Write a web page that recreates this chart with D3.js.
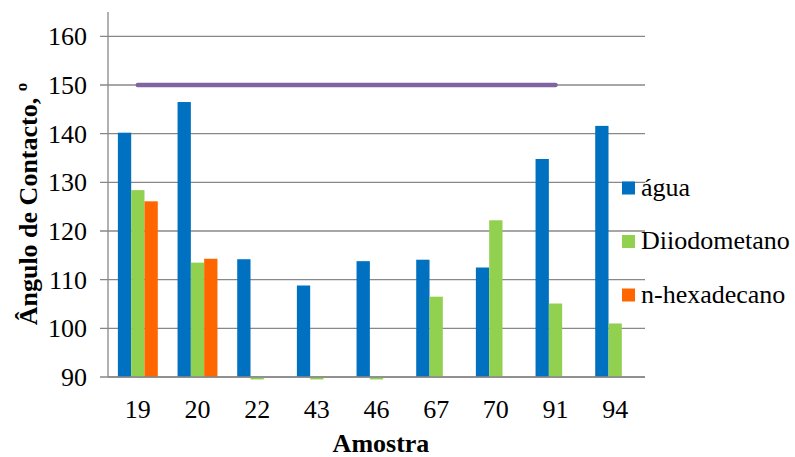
<!DOCTYPE html>
<html><head><meta charset="utf-8">
<script src="https://cdn.jsdelivr.net/npm/d3@7"></script>
<style>body{margin:0;background:#fff}svg{display:block}</style>
</head><body>
<svg id="c" width="795" height="457"></svg>
<script>
const categories = ["19","20","22","43","46","67","70","91","94"];
const agua = [140.2,146.5,114.2,108.8,113.8,114.1,112.5,134.8,141.6];
const diiodometano = [128.4,113.5,89.5,89.5,89.5,106.5,122.2,105.1,101.0];
const hexadecano = [126.1,114.3,null,null,null,null,null,null,null];
const referencia = [150,150,150,150,150,150,150,150,null];
const yTicks = [90,100,110,120,130,140,150,160];
const seriesNames = ["água","Diiodometano","n-hexadecano"];
const colors = ["#0070C0","#92D050","#FF6600"];
const lineColor = "#8064A2";
const FF = "'Liberation Serif', 'Times New Roman', serif";

const svg = d3.select("#c");
const L=108, R=645, T=12, B=377;
const x = d3.scaleBand().domain(categories).range([L,R]).paddingInner(0).paddingOuter(0);
const y = d3.scaleLinear().domain([90,165]).range([B,T]);
const series = [agua, diiodometano, hexadecano];
const bw = 13.3;
const groupW = bw*3;

// gridlines
svg.append("g").selectAll("line").data(yTicks).join("line")
  .attr("x1",L-8).attr("x2",R).attr("y1",d=>y(d)).attr("y2",d=>y(d))
  .attr("stroke","#888").attr("stroke-width",1.3);

// bars
series.forEach((s,si)=>{
  svg.append("g").selectAll("rect").data(s.map((v,i)=>({v,c:categories[i]})).filter(d=>d.v!=null))
    .join("rect")
    .attr("x",d=>x(d.c)+x.bandwidth()/2-groupW/2+si*bw)
    .attr("width",bw)
    .attr("y",d=>Math.min(y(d.v),y(90)))
    .attr("height",d=>Math.abs(y(d.v)-y(90)))
    .attr("fill",colors[si]);
});

// axes lines
svg.append("line").attr("x1",L).attr("x2",L).attr("y1",T).attr("y2",B).attr("stroke","#888").attr("stroke-width",1.3);
svg.append("line").attr("x1",L).attr("x2",R).attr("y1",B).attr("y2",B).attr("stroke","#888").attr("stroke-width",1.3);

// line series
const line = d3.line().defined(d=>d.v!=null).x(d=>x(d.c)+x.bandwidth()/2).y(d=>y(d.v));
svg.append("path").datum(referencia.map((v,i)=>({v,c:categories[i]})))
  .attr("d",line).attr("fill","none").attr("stroke",lineColor).attr("stroke-width",4.5).attr("stroke-linecap","round");

// texts appended directly to the svg
function txt(xp, yp, s, anchor, weight){
  return svg.append("text").attr("x",xp).attr("y",yp).attr("text-anchor",anchor||"start")
    .style("font-family",FF).style("font-size","26px").style("font-weight",weight||"400").text(s);
}
// y tick labels
yTicks.forEach(t=>txt(87, y(t)+9, String(t), "end"));
// x labels
categories.forEach(c=>txt(x(c)+x.bandwidth()/2, 418, c, "middle"));

// legend
seriesNames.forEach((n,i)=>{
  const cy = 188+i*53.5;
  svg.append("rect").attr("x",622).attr("y",cy-6.5).attr("width",13).attr("height",13).attr("fill",colors[i]);
  txt(641, cy+7.5, n, "start");
});

// axis titles
txt(381, 452, "Amostra", "middle", "700");
svg.append("text").attr("transform","translate(37,204) rotate(-90)").attr("text-anchor","middle")
  .style("font-family",FF).style("font-size","26px").style("font-weight","700").text("Ângulo de Contacto, º");
</script>
</body></html>
